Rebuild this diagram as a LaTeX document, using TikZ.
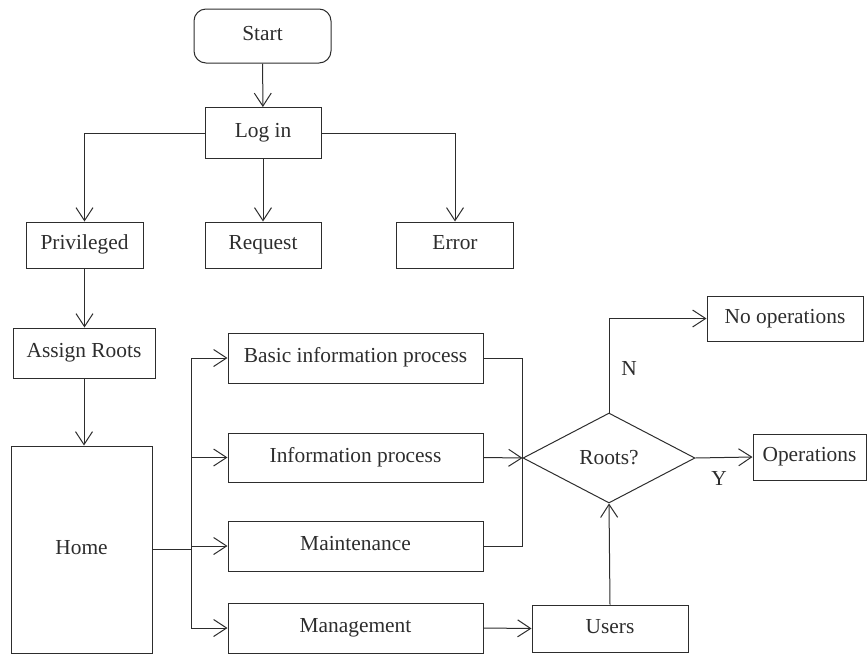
\documentclass[tikz,border=0pt]{standalone}
\usepackage{fontspec}
\setmainfont{Liberation Serif}
\usetikzlibrary{arrows.meta,shapes.geometric}
\definecolor{lgray}{RGB}{45,45,45}
\tikzset{
  box/.style={draw=lgray,line width=1pt,rectangle,inner sep=0pt,text height=14pt,text depth=5pt,font=\fontsize{21.4}{25}\selectfont,text=lgray},
  sbox/.style={box,rounded corners=12pt},
  dbox/.style={draw=lgray,line width=1pt,diamond,inner sep=0pt,minimum width=172pt,minimum height=90pt,font=\fontsize{21.4}{25}\selectfont,text=lgray},
  link/.style={draw=lgray,line width=1pt},
  flow/.style={link,-{Straight Barb[length=13pt,width=17pt,line width=1pt]}},
  blab/.style={font=\fontsize{21.4}{25}\selectfont,text=lgray,inner sep=0pt},
  every picture/.style={x=1pt,y=-1pt}
}
\begin{document}
\begin{tikzpicture}
\useasboundingbox (0,0) rectangle (868,654);
% top part
\node[sbox,minimum width=137pt,minimum height=54pt] (start) at (262.5,36) {Start};
\node[box,minimum width=116pt,minimum height=51pt] (login) at (263,133) {Log in};
\node[box,minimum width=117pt,minimum height=46pt] (priv) at (84.5,245) {Privileged};
\node[box,minimum width=116pt,minimum height=46pt] (request) at (263,245) {Request};
\node[box,minimum width=117pt,minimum height=46pt] (error) at (455,245) {Error};
\node[box,minimum width=142pt,minimum height=50pt] (assign) at (84,353) {Assign Roots};
\node[box,minimum width=141pt,minimum height=207pt] (home) at (81.5,549.5) {Home};
% middle column
\node[box,minimum width=255pt,minimum height=50pt] (basic) at (355.5,358) {Basic information process};
\node[box,minimum width=255pt,minimum height=49pt] (info) at (355.5,457.5) {Information process};
\node[box,minimum width=255pt,minimum height=50pt] (maint) at (355.5,546) {Maintenance};
\node[box,minimum width=255pt,minimum height=50pt] (manage) at (355.5,628) {Management};
% right part
\node[dbox] (roots) at (609,458) {Roots?};
\node[box,minimum width=156pt,minimum height=47pt] (users) at (610,628.5) {Users};
\node[box,minimum width=156pt,minimum height=45pt] (noop) at (785,318.5) {No operations};
\node[box,minimum width=113pt,minimum height=46pt] (ops) at (809.5,457) {Operations};
\coordinate (bus) at (191,549.5);

\draw[flow] (start) -- (login);
\draw[flow] (login.west) -| (priv.north);
\draw[flow] (login) -- (request);
\draw[flow] (login.east) -| (error.north);
\draw[flow] (priv) -- (priv |- assign.north);
\draw[flow] (assign.south) -- (assign.south |- home.north);
\foreach \n in {basic,info,maint,manage}
  \draw[flow] (home.east) -- (bus) |- (\n.west);
\draw[link] (basic.east) -| (roots.west);
\draw[link] (maint.east) -| (roots.west);
\draw[flow] (info.east) -- (roots.west);
\draw[flow] (roots.north) |- (noop.west);
\draw[flow] (roots.east) -- (ops.west);
\draw[flow] (manage.east) -- (users.west);
\draw[flow] (users.north) -- (roots.south);
\node[blab] (nlab) at (629,368) {N};
\node[blab] (ylab) at (719,478) {Y};
\end{tikzpicture}
\end{document}
